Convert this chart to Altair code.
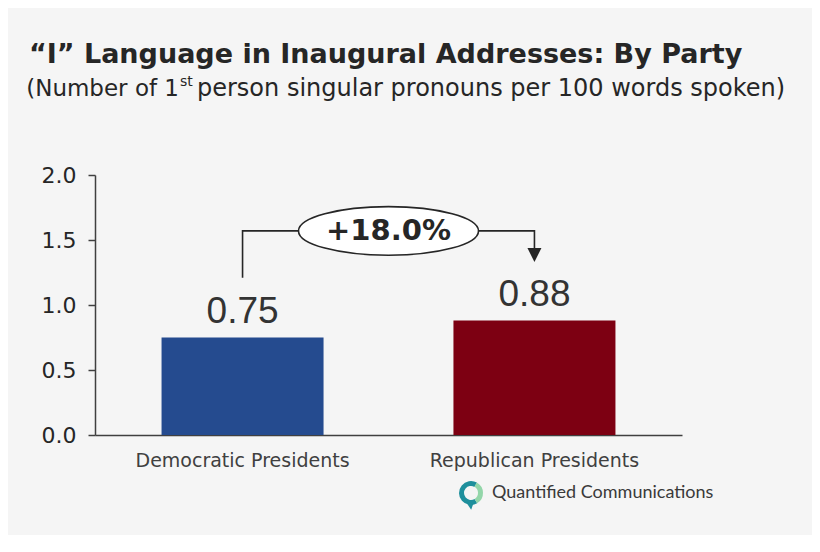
import altair as alt
import pandas as pd

# values
parties = ["Democratic Presidents", "Republican Presidents"]
pronouns_per_100 = [0.75, 0.88]
value_labels = ["0.75", "0.88"]
bar_colours = ["#254b8f", "#7d0012"]
y_ticks = [0.0, 0.5, 1.0, 1.5, 2.0]

# bracket / arrow annotation (in data units)
change_label = "+18.0%"
bracket_party = [parties[0], parties[0], parties[1], parties[1]]
bracket_level = [1.21, 1.57, 1.57, 1.40]
arrow_level = 1.385

title_text = "\u201cI\u201d Language in Inaugural Addresses: By Party"
subtitle_parts = ["(Number  of 1", "st", "person singular pronouns per 100 words spoken)"]
source_text = "Quantified Communications"

W, H = 587, 260
FONT = "Liberation Sans, Arial, sans-serif"
WIDE = "DejaVu Sans, Verdana, sans-serif"
INK = "#262626"

bars_df = pd.DataFrame({"party": parties, "value": pronouns_per_100, "label": value_labels})
bracket_df = pd.DataFrame({"party": bracket_party, "value": bracket_level, "step": [0, 1, 2, 3]})
arrow_df = pd.DataFrame({"party": [parties[1]], "value": [arrow_level]})
oval_df = pd.DataFrame({"value": [bracket_level[1]], "label": [change_label]})

x_enc = alt.X(
    "party:N", sort=parties,
    scale=alt.Scale(domain=parties, paddingInner=0.445, paddingOuter=0.228),
    axis=alt.Axis(title=None, labelAngle=0, ticks=False, labelFontSize=19, labelFont=WIDE,
                  labelLimit=400, labelColor="#404040", labelPadding=16,
                  domainColor="#404040", domainWidth=1.5),
)
y_enc = alt.Y(
    "value:Q",
    scale=alt.Scale(domain=[0, 2], nice=False),
    axis=alt.Axis(title=None, values=y_ticks, format=".1f", grid=False, tickSize=7, tickColor="#404040",
                  tickWidth=1.5, domainColor="#404040", domainWidth=1.5, labelFontSize=22,
                  labelFont=WIDE, labelColor=INK, labelPadding=12),
)

bars = alt.Chart(bars_df).mark_bar().encode(
    x=x_enc, y=y_enc,
    color=alt.Color("party:N", scale=alt.Scale(domain=parties, range=bar_colours), legend=None),
)

value_text = alt.Chart(bars_df).mark_text(
    fontSize=37, font=FONT, color="#333333", baseline="alphabetic", dy=-15
).encode(x=alt.X("party:N", sort=parties), y="value:Q", text="label:N")

bracket = alt.Chart(bracket_df).mark_line(color=INK, strokeWidth=1.6).encode(
    x=alt.X("party:N", sort=parties), y="value:Q", order="step:Q"
)

arrow = alt.Chart(arrow_df).mark_point(
    shape="M -1 -1 L 1 -1 L 0 1 Z", size=196, filled=True, color=INK, opacity=1
).encode(x=alt.X("party:N", sort=parties), y="value:Q")

oval = alt.Chart(oval_df).mark_point(
    shape="M -1 0 A 1 0.27 0 1 1 1 0 A 1 0.27 0 1 1 -1 0 Z", size=32400,
    filled=True, color="white", stroke=INK, strokeWidth=1.6, opacity=1
).encode(x=alt.value(W / 2), y="value:Q")

oval_text = alt.Chart(oval_df).mark_text(
    fontSize=29, fontWeight="bold", font=WIDE, color=INK, baseline="middle", align="center"
).encode(x=alt.value(W / 2), y="value:Q", text="label:N")

# titles drawn as text marks so the "st" can be raised
title = alt.Chart(pd.DataFrame({"t": [title_text]})).mark_text(
    fontSize=27, fontWeight="bold", font=WIDE, color=INK, align="left", baseline="alphabetic"
).encode(x=alt.value(-66), y=alt.value(-112), text="t:N")

sub_a = alt.Chart(pd.DataFrame({"t": [subtitle_parts[0]]})).mark_text(
    fontSize=23, font=WIDE, color=INK, align="right", baseline="alphabetic"
).encode(x=alt.value(84), y=alt.value(-79), text="t:N")
sub_b = alt.Chart(pd.DataFrame({"t": [subtitle_parts[1]]})).mark_text(
    fontSize=14, font=WIDE, color=INK, align="left", baseline="alphabetic"
).encode(x=alt.value(85), y=alt.value(-89), text="t:N")
sub_c = alt.Chart(pd.DataFrame({"t": [subtitle_parts[2]]})).mark_text(
    fontSize=24, font=WIDE, color=INK, align="left", baseline="alphabetic"
).encode(x=alt.value(102), y=alt.value(-79), text="t:N")

# little logo under the chart
logo_df = pd.DataFrame({"t": [source_text]})
logo_teal = alt.Chart(logo_df).mark_arc(
    theta=2.6, theta2=6.8, outerRadius=12, innerRadius=7, color="#1e8f9c"
).encode(x=alt.value(376), y=alt.value(318))
logo_green = alt.Chart(logo_df).mark_arc(
    theta=0.5, theta2=2.6, outerRadius=12, innerRadius=7, color="#93d6a9"
).encode(x=alt.value(376), y=alt.value(318))
logo_tail = alt.Chart(logo_df).mark_point(
    shape="M -1 -1 L 1 -1 L 0.3 1 Z", size=60, filled=True, color="#1e8f9c", opacity=1
).encode(x=alt.value(375), y=alt.value(331))
logo_text = alt.Chart(logo_df).mark_text(
    fontSize=18, font="Lato, Open Sans, sans-serif", color="#3a3a3a", align="left", baseline="middle"
).encode(x=alt.value(397), y=alt.value(318), text="t:N")

chart = alt.layer(
    bars, value_text, bracket, arrow, oval, oval_text,
    title, sub_a, sub_b, sub_c,
    logo_teal, logo_green, logo_tail, logo_text,
).properties(
    width=W, height=H,
    autosize=alt.AutoSizeParams(type="none"),
    padding={"left": 87, "top": 167, "right": 130, "bottom": 100},
    background="#f5f5f5",
).configure_view(stroke=None)

chart.save("out.html", embed_options={"renderer": "svg", "actions": False})
